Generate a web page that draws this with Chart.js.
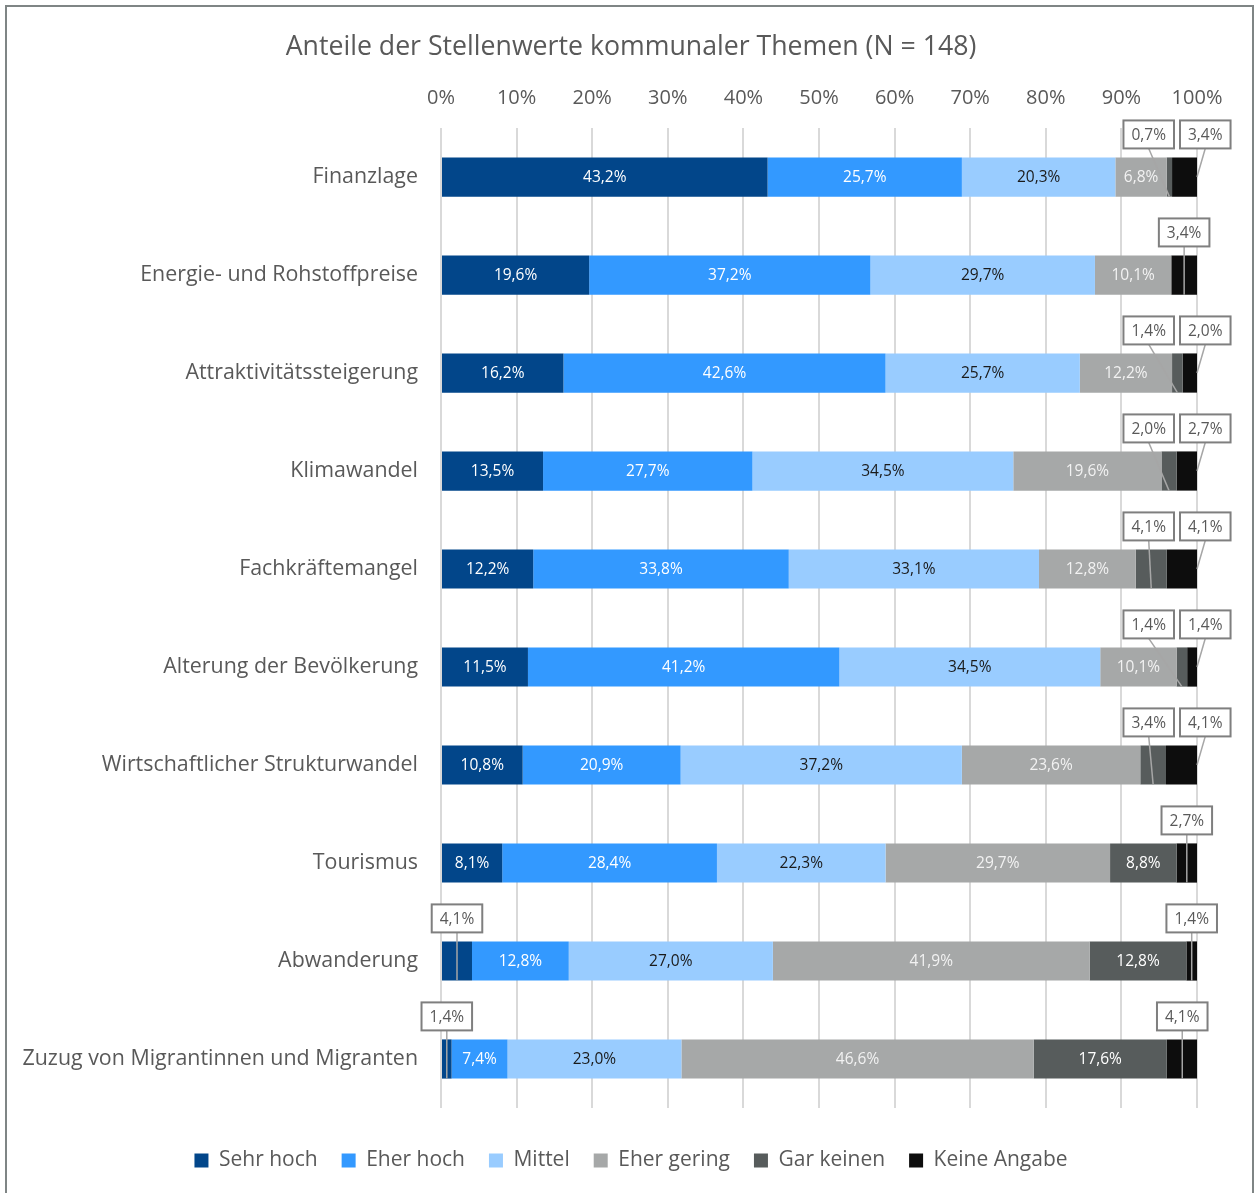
<!DOCTYPE html>
<html>
<head>
<meta charset="utf-8">
<script src="https://cdn.jsdelivr.net/npm/chart.js@4.4.0/dist/chart.umd.min.js"></script>
<style>
  html, body { margin: 0; padding: 0; background: #fff; }
  #wrap { position: relative; width: 1254px; height: 1193px; overflow: hidden; }
  #frame { position: absolute; left: 5px; top: 5px; width: 1249px; height: 1210px; box-sizing: border-box; border: 2px solid #7f8585; pointer-events: none; }
</style>
</head>
<body>
<div id="wrap">
  <canvas id="chart" width="1254" height="1193"></canvas>
  <div id="frame"></div>
</div>
<script>
const categories = [
  'Finanzlage',
  'Energie- und Rohstoffpreise',
  'Attraktivitätssteigerung',
  'Klimawandel',
  'Fachkräftemangel',
  'Alterung der Bevölkerung',
  'Wirtschaftlicher Strukturwandel',
  'Tourismus',
  'Abwanderung',
  'Zuzug von Migrantinnen und Migranten'
];
const sehrHoch    = [43.2, 19.6, 16.2, 13.5, 12.2, 11.5, 10.8, 8.1, 4.1, 1.4];
const eherHoch    = [25.7, 37.2, 42.6, 27.7, 33.8, 41.2, 20.9, 28.4, 12.8, 7.4];
const mittel      = [20.3, 29.7, 25.7, 34.5, 33.1, 34.5, 37.2, 22.3, 27.0, 23.0];
const eherGering  = [6.8, 10.1, 12.2, 19.6, 12.8, 10.1, 23.6, 29.7, 41.9, 46.6];
const garKeinen   = [0.7, 0, 1.4, 2.0, 4.1, 1.4, 3.4, 8.8, 12.8, 17.6];
const keineAngabe = [3.4, 3.4, 2.0, 2.7, 4.1, 1.4, 4.1, 2.7, 1.4, 4.1];
const seriesNames = ['Sehr hoch', 'Eher hoch', 'Mittel', 'Eher gering', 'Gar keinen', 'Keine Angabe'];

const colors = ['#02468a', '#3399ff', '#99ccff', '#a6a8a8', '#575c5c', '#0d0d0d'];
const labelColors = ['#ffffff', '#ffffff', '#1a1a1a', '#f2f2f2', '#ffffff', '#ffffff'];
const textGray = '#595959';
const FONT = '"Open Sans", "Noto Sans", sans-serif';

const fmt = v => v.toFixed(1).replace('.', ',') + '%';

// values inside the bars, small ones in boxes above with a leader line
const barLabels = {
  id: 'barLabels',
  afterDatasetsDraw(chart) {
    const ctx = chart.ctx;
    const area = chart.chartArea;
    const small = categories.map(() => []);
    ctx.save();
    ctx.font = '15.5px ' + FONT;
    ctx.textAlign = 'center';
    ctx.textBaseline = 'middle';
    chart.data.datasets.forEach((ds, di) => {
      const meta = chart.getDatasetMeta(di);
      meta.data.forEach((bar, i) => {
        const v = ds.data[i];
        if (!v) return;
        const left = Math.min(bar.x, bar.base);
        const right = Math.max(bar.x, bar.base);
        const cx = (left + right) / 2;
        if (v >= 5) {
          ctx.fillStyle = labelColors[di];
          ctx.fillText(fmt(v), cx, bar.y + 1);
        } else {
          small[i].push({ v, cx, y: bar.y, top: bar.y - bar.height / 2, bottom: bar.y + bar.height / 2 });
        }
      });
    });

    const boxH = 28;
    small.forEach(items => {
      items.sort((a, b) => a.cx - b.cx);
      const boxes = [];
      let k = 0;
      while (k < items.length) {
        const a = items[k];
        const b = items[k + 1];
        if (b && b.cx - a.cx < 40) {
          const wB = ctx.measureText(fmt(b.v)).width + 16;
          const wA = ctx.measureText(fmt(a.v)).width + 16;
          const bLeft = area.right - 17;
          const aLeft = bLeft - 6 - wA;
          const boxBottom = a.top - 9;
          boxes.push({ it: a, x: aLeft, w: wA, bottom: boxBottom, tx: a.cx, ty: a.bottom });
          boxes.push({ it: b, x: bLeft, w: wB, bottom: boxBottom, tx: area.right, ty: b.y });
          k += 2;
        } else {
          const w = ctx.measureText(fmt(a.v)).width + 16;
          boxes.push({ it: a, x: a.cx - w / 2, w, bottom: a.top - 9, tx: a.cx, ty: a.bottom });
          k += 1;
        }
      }
      boxes.forEach(bx => {
        ctx.strokeStyle = '#a6a6a6';
        ctx.lineWidth = 1.5;
        ctx.beginPath();
        ctx.moveTo(bx.x + bx.w / 2, bx.bottom);
        ctx.lineTo(bx.tx, bx.ty);
        ctx.stroke();
      });
      boxes.forEach(bx => {
        ctx.fillStyle = '#ffffff';
        ctx.fillRect(bx.x, bx.bottom - boxH, bx.w, boxH);
        ctx.strokeStyle = '#7f7f7f';
        ctx.lineWidth = 2;
        ctx.strokeRect(bx.x, bx.bottom - boxH, bx.w, boxH);
        ctx.fillStyle = textGray;
        ctx.fillText(fmt(bx.it.v), bx.x + bx.w / 2, bx.bottom - boxH / 2 + 1);
      });
    });
    ctx.restore();
  }
};

const seriesData = [sehrHoch, eherHoch, mittel, eherGering, garKeinen, keineAngabe];

// empty axes used only as spacers around the plot
const spacer = (axis, position, size) => ({
  type: 'linear',
  axis,
  position,
  display: true,
  ticks: { display: false },
  grid: { display: false },
  border: { display: false },
  afterFit: s => {
    if (axis === 'y') s.width = size;
    else s.height = size;
  }
});

new Chart(document.getElementById('chart'), {
  type: 'bar',
  data: {
    labels: categories,
    datasets: seriesData.map((d, i) => ({
      label: seriesNames[i],
      data: d,
      xAxisID: 'x',
      yAxisID: 'y',
      backgroundColor: colors[i],
      borderWidth: 0,
      categoryPercentage: 0.4,
      barPercentage: 1
    }))
  },
  options: {
    indexAxis: 'y',
    responsive: false,
    animation: false,
    layout: { padding: { top: 0, left: 8, right: 0, bottom: 12 } },
    scales: {
      x: {
        stacked: true,
        position: 'top',
        min: 0,
        max: 100,
        ticks: {
          stepSize: 10,
          padding: 18,
          color: textGray,
          font: { family: FONT, size: 20 },
          callback: v => v + '%'
        },
        grid: { color: '#d9d9d9', lineWidth: 2, drawTicks: false },
        border: { display: false },
        afterFit: s => { s.height = 59; }
      },
      y: {
        type: 'category',
        stacked: true,
        position: 'left',
        ticks: {
          padding: 23,
          color: textGray,
          font: { family: FONT, size: 21.4 }
        },
        grid: { display: false, drawTicks: false },
        border: { display: false },
        afterFit: s => { s.width = 433; }
      },
      sp: spacer('x', 'bottom', 18),
      spr: spacer('y', 'right', 57)
    },
    plugins: {
      title: {
        display: true,
        text: 'Anteile der Stellenwerte kommunaler Themen (N = 148)',
        color: textGray,
        font: { family: FONT, size: 26.7, weight: 'normal', lineHeight: 1.2 },
        padding: { top: 31, bottom: 6 }
      },
      legend: {
        position: 'bottom',
        labels: {
          boxWidth: 14,
          boxHeight: 14,
          padding: 24,
          color: textGray,
          font: { family: FONT, size: 21 }
        }
      },
      tooltip: { enabled: false }
    }
  },
  plugins: [barLabels]
});
</script>
</body>
</html>
